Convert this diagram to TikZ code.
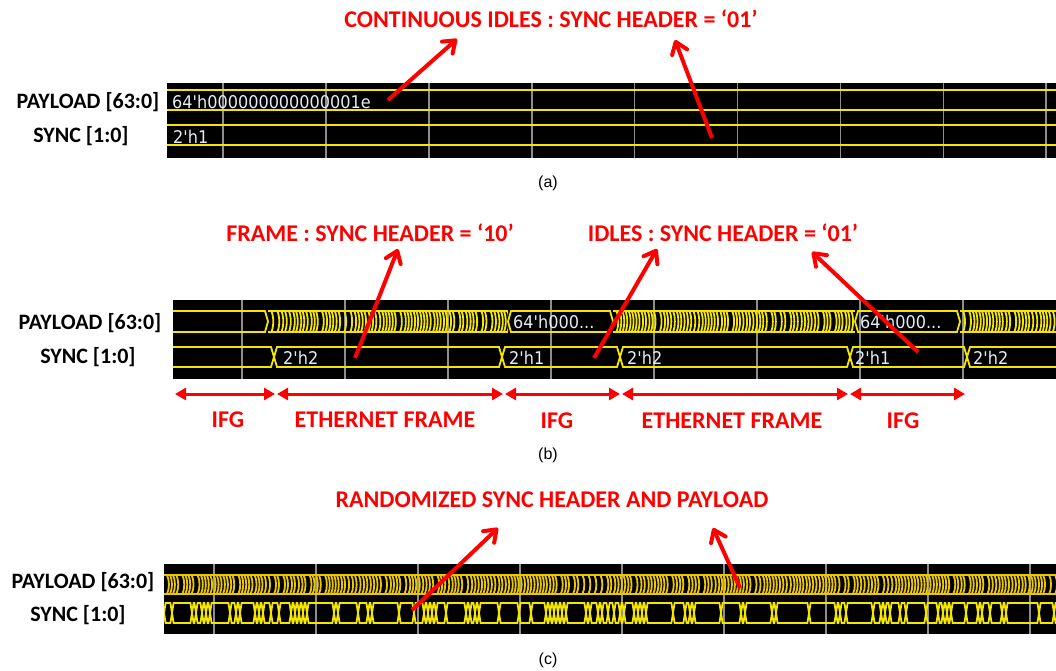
\documentclass[tikz,border=0pt]{standalone}
\usepackage{fontspec}
\setmainfont{Carlito}
\newfontfamily\capfont{Liberation Sans}
\newfontfamily\wavefont[FakeStretch=0.92]{DejaVu Sans}
\usetikzlibrary{arrows.meta}
\definecolor{wy}{HTML}{F5E600}
\definecolor{wy2}{HTML}{ECC800}
\definecolor{gridc}{HTML}{8E8E8E}
\definecolor{vtxt}{HTML}{E6ECF8}
\definecolor{rd}{HTML}{FF0000}
\tikzset{
 wave/.style={draw=wy, line width=1.8pt},
 dense/.style={wave},
 gridline/.style={draw=gridc, line width=1.6pt},
 sig/.style={font=\fontsize{22}{26}\selectfont\bfseries, inner sep=0pt, anchor=base},
 note/.style={text=rd, font=\fontsize{24}{28}\selectfont\bfseries, inner sep=0pt, anchor=base},
 pointer/.style={draw=rd, line width=4pt, -{Straight Barb[length=11pt,width=16pt,round]}},
 spanarrow/.style={draw=rd, line width=3pt, {Triangle[length=11pt,width=12pt]}-{Triangle[length=11pt,width=12pt]}},
 val/.style={text=vtxt, font=\wavefont\fontsize{17.5}{20}\selectfont, inner sep=0pt, anchor=base west},
 capt/.style={font=\capfont\fontsize{16}{19}\selectfont, inner sep=0pt},
}
\newcommand\hexseg[5]{%
 \draw[wave] (#1,{(#3+#4)/2}) -- (#1+#5,#3) -- (#2-#5,#3) -- (#2,{(#3+#4)/2}) -- (#2-#5,#4) -- (#1+#5,#4) -- cycle;}
\newcommand\densebus[5]{%
 \begin{scope}
 \clip (#1,#3-3) rectangle (#2,#4+3);
 \draw[dense] (#1,#3) -- (#2,#3) (#1,#4) -- (#2,#4);
 \xdef\cx{#1}%
 \foreach \i in {1,...,320}{%
   \pgfmathrandomitem{\w}{#5}%
   \pgfmathsetmacro{\nx}{\cx+\w}%
   \draw[dense] (\nx,#3) .. controls (\nx+2.6,#3+5) and (\nx+2.6,#4-5) .. (\nx,#4);
   \xdef\cx{\nx}%
 }
 \end{scope}}
\newcommand\randbus[5]{%
 \begin{scope}
 \clip (#1,#3-3) rectangle (#2,#4+3);
 \xdef\cx{#1}%
 \foreach \i in {1,...,300}{%
   \pgfmathrandomitem{\w}{#5}%
   \pgfmathsetmacro{\nx}{\cx+\w}%
   \hexseg{\cx}{\nx}{#3}{#4}{1.6}
   \xdef\cx{\nx}%
 }
 \end{scope}}
\pgfmathdeclarerandomlist{dw}{{3}{3}{3}{3.3}{3.3}{3.5}{4}{6}}
\pgfmathdeclarerandomlist{sw}{{4}{4}{4}{4}{4}{4}{4}{4}{5}{6}{8}{10}{12}{15}{20}{27}{33}}
\begin{document}
\begin{tikzpicture}[x=1pt,y=-1pt]
\pgfmathsetseed{12}
\useasboundingbox (0,0) rectangle (1056,670);
% ---------------- panel (a)
\fill[black] (167,83) rectangle (1056,158);
\foreach \k in {0,...,8} \draw[gridline] ({223+102.9*\k},83) -- ({223+102.9*\k},158);
\draw[wave] (167,90) -- (1056,90) (167,110) -- (1056,110) (167,125) -- (1056,125) (167,145) -- (1056,145);
\node[val] (va1) at (172,108) {64'h000000000000001e};
\node[val] (va2) at (173,143) {2'h1};
\node[sig] (la1) at (88,108) {PAYLOAD [63:0]};
\node[sig] (la2) at (81,142.5) {SYNC [1:0]};
\node[note] (ta) at (551,27) {CONTINUOUS IDLES : SYNC HEADER = ‘01’};
\coordinate (pa1) at (388,100); \coordinate (ha1) at (457,39);
\coordinate (pa2) at (712,138); \coordinate (ha2) at (675,40);
\draw[pointer] (pa1) -- (ha1);
\draw[pointer] (pa2) -- (ha2);
\node[capt] (ca) at (548,183) {(a)};
% ---------------- panel (b)
\fill[black] (173,300) rectangle (1056,379);
\foreach \k in {0,...,7} \draw[gridline] ({242+103*\k},300) -- ({242+103*\k},379);
\begin{scope}
\clip (173,300) rectangle (1056,379);
\hexseg{165}{268}{311}{332}{3}
\densebus{268}{508}{311}{332}{dw}
\hexseg{508}{613}{311}{332}{3}
\densebus{613}{855}{311}{332}{dw}
\hexseg{855}{960}{311}{332}{3}
\densebus{960}{1056}{311}{332}{dw}
\hexseg{165}{274}{347}{367}{3}
\hexseg{274}{502}{347}{367}{3}
\hexseg{502}{620}{347}{367}{3}
\hexseg{620}{850}{347}{367}{3}
\hexseg{850}{967}{347}{367}{3}
\hexseg{967}{1075}{347}{367}{3}
\end{scope}
\node[val] (vb1) at (513,328) {64'h000...};
\node[val] (vb2) at (860,328) {64'h000...};
\node[val] (vb3) at (283,364) {2'h2};
\node[val] (vb4) at (509,364) {2'h1};
\node[val] (vb5) at (627,364) {2'h2};
\node[val] (vb6) at (855,364) {2'h1};
\node[val] (vb7) at (973,364) {2'h2};
\node[sig] (lb1) at (90,329) {PAYLOAD [63:0]};
\node[sig] (lb2) at (88,363) {SYNC [1:0]};
\node[note] (tb1) at (370,241) {FRAME : SYNC HEADER = ‘10’};
\node[note] (tb2) at (723,241) {IDLES : SYNC HEADER = ‘01’};
\coordinate (pb1) at (355,358); \coordinate (hb1) at (398,249);
\coordinate (pb2) at (594,358); \coordinate (hb2) at (657,249);
\coordinate (pb3) at (918,352); \coordinate (hb3) at (812,252);
\draw[pointer] (pb1) -- (hb1);
\draw[pointer] (pb2) -- (hb2);
\draw[pointer] (pb3) -- (hb3);
\coordinate (s0) at (175,394); \coordinate (s1) at (275,394);
\coordinate (s2) at (277,394); \coordinate (s3) at (503,394);
\coordinate (s4) at (505,394); \coordinate (s5) at (620,394);
\coordinate (s6) at (622,394); \coordinate (s7) at (848,394);
\coordinate (s8) at (850,394); \coordinate (s9) at (965,394);
\draw[spanarrow] (s0) -- (s1);
\draw[spanarrow] (s2) -- (s3);
\draw[spanarrow] (s4) -- (s5);
\draw[spanarrow] (s6) -- (s7);
\draw[spanarrow] (s8) -- (s9);
\node[note] (g1) at (228,427.5) {IFG};
\node[note] (g2) at (385,427.5) {ETHERNET FRAME};
\node[note] (g3) at (557,428.5) {IFG};
\node[note] (g4) at (732,428.5) {ETHERNET FRAME};
\node[note] (g5) at (903,428.5) {IFG};
\node[capt] (cb) at (548,455) {(b)};
% ---------------- panel (c)
\fill[black] (164,564) rectangle (1056,634);
\foreach \k in {0,...,8} \draw[gridline] ({214+102*\k},564) -- ({214+102*\k},634);
\tikzset{dense/.style={wave, draw=wy2}}
\densebus{164}{1056}{575}{594}{dw}
\randbus{164}{1056}{603}{623}{sw}
\node[sig] (lc1) at (83,588) {PAYLOAD [63:0]};
\node[sig] (lc2) at (78,621) {SYNC [1:0]};
\node[note] (tc) at (552,507) {RANDOMIZED SYNC HEADER AND PAYLOAD};
\coordinate (pc1) at (412,610); \coordinate (hc1) at (498,528);
\coordinate (pc2) at (740,588); \coordinate (hc2) at (713,528);
\draw[pointer] (pc1) -- (hc1);
\draw[pointer] (pc2) -- (hc2);
\node[capt] (cc) at (548,660) {(c)};
\end{tikzpicture}
\end{document}
